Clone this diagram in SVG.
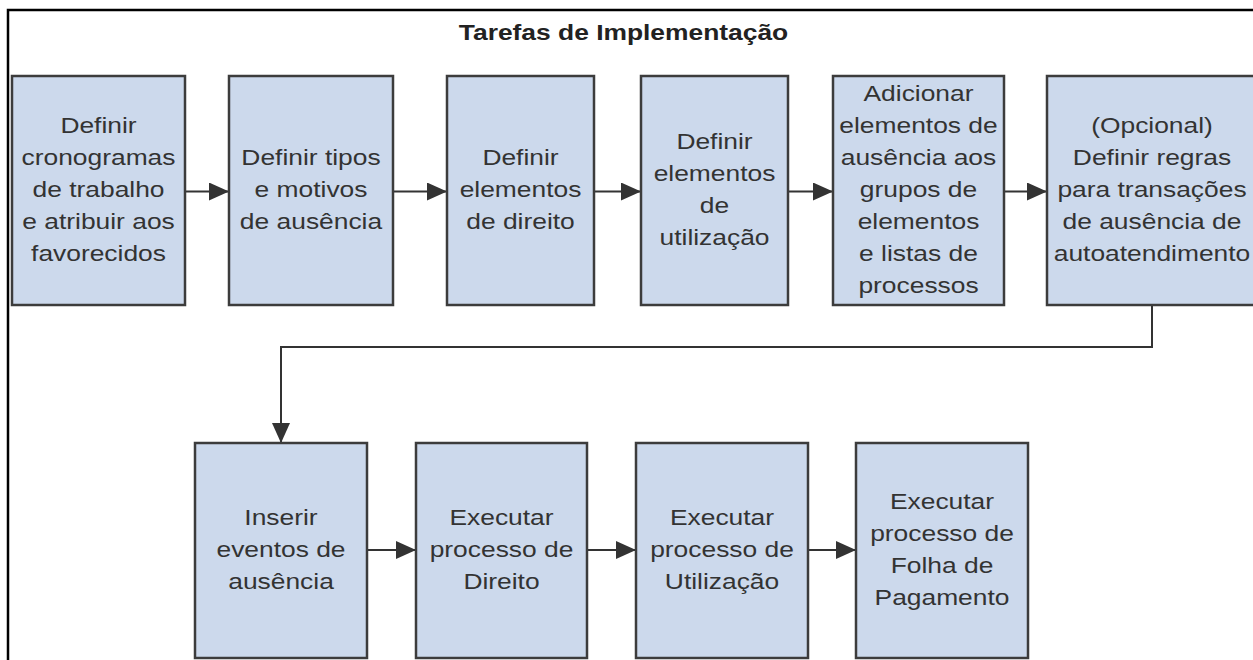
<svg xmlns="http://www.w3.org/2000/svg" width="1253" height="660" viewBox="0 0 1253 660">
<style>
.box{fill:#ccd9ec;stroke:#3c3c3c;stroke-width:2.5}
.lbl{font-family:"Liberation Sans",Arial,sans-serif;font-size:22px;fill:#333;text-anchor:middle}
.title{font-family:"Liberation Sans",Arial,sans-serif;font-size:22px;font-weight:bold;fill:#222;text-anchor:middle}
.conn{fill:none;stroke:#333;stroke-width:2}
</style>
<defs>
<marker id="arr" markerUnits="userSpaceOnUse" markerWidth="20" markerHeight="18" refX="20" refY="9" orient="auto">
<path d="M0,0 L20,9 L0,18 z" fill="#333"/>
</marker>
</defs>
<rect width="1253" height="660" fill="#fff"/>
<g id="frame">
<path d="M8,662 L8,10 L1256,10" fill="none" stroke="#000" stroke-width="2.5"/>
</g>
<text class="title" transform="translate(623.5,0) scale(1.2,1)" x="0" y="40">Tarefas de Implementação</text>

<g id="connectors">
<path class="conn" d="M185,191.5 L229,191.5" marker-end="url(#arr)"/>
<path class="conn" d="M393,191.5 L447,191.5" marker-end="url(#arr)"/>
<path class="conn" d="M594,191.5 L641,191.5" marker-end="url(#arr)"/>
<path class="conn" d="M788,191.5 L833,191.5" marker-end="url(#arr)"/>
<path class="conn" d="M1004,191.5 L1047,191.5" marker-end="url(#arr)"/>
<path class="conn" d="M1152,305 L1152,347 L281,347 L281,443" marker-end="url(#arr)"/>
<path class="conn" d="M367,550 L416,550" marker-end="url(#arr)"/>
<path class="conn" d="M587,550 L636,550" marker-end="url(#arr)"/>
<path class="conn" d="M808,550 L856,550" marker-end="url(#arr)"/>
</g>

<g id="n1">
<rect class="box" x="12" y="76" width="173" height="229"/>
<text class="lbl" transform="translate(98.5,0) scale(1.2,1)"><tspan x="0" y="133">Definir</tspan><tspan x="0" y="165">cronogramas</tspan><tspan x="0" y="197">de trabalho</tspan><tspan x="0" y="229">e atribuir aos</tspan><tspan x="0" y="261">favorecidos</tspan></text>
</g>
<g id="n2">
<rect class="box" x="229" y="76" width="164" height="229"/>
<text class="lbl" transform="translate(311,0) scale(1.2,1)"><tspan x="0" y="165">Definir tipos</tspan><tspan x="0" y="197">e motivos</tspan><tspan x="0" y="229">de ausência</tspan></text>
</g>
<g id="n3">
<rect class="box" x="447" y="76" width="147" height="229"/>
<text class="lbl" transform="translate(520.5,0) scale(1.2,1)"><tspan x="0" y="165">Definir</tspan><tspan x="0" y="197">elementos</tspan><tspan x="0" y="229">de direito</tspan></text>
</g>
<g id="n4">
<rect class="box" x="641" y="76" width="147" height="229"/>
<text class="lbl" transform="translate(714.5,0) scale(1.2,1)"><tspan x="0" y="149">Definir</tspan><tspan x="0" y="181">elementos</tspan><tspan x="0" y="213">de</tspan><tspan x="0" y="245">utilização</tspan></text>
</g>
<g id="n5">
<rect class="box" x="833" y="76" width="171" height="229"/>
<text class="lbl" transform="translate(918.5,0) scale(1.2,1)"><tspan x="0" y="101">Adicionar</tspan><tspan x="0" y="133">elementos de</tspan><tspan x="0" y="165">ausência aos</tspan><tspan x="0" y="197">grupos de</tspan><tspan x="0" y="229">elementos</tspan><tspan x="0" y="261">e listas de</tspan><tspan x="0" y="293">processos</tspan></text>
</g>
<g id="n6">
<rect class="box" x="1047" y="76" width="210" height="229"/>
<text class="lbl" transform="translate(1152,0) scale(1.2,1)"><tspan x="0" y="133">(Opcional)</tspan><tspan x="0" y="165">Definir regras</tspan><tspan x="0" y="197">para transações</tspan><tspan x="0" y="229">de ausência de</tspan><tspan x="0" y="261">autoatendimento</tspan></text>
</g>
<g id="n7">
<rect class="box" x="195" y="443" width="172" height="215"/>
<text class="lbl" transform="translate(281,0) scale(1.2,1)"><tspan x="0" y="525">Inserir</tspan><tspan x="0" y="557">eventos de</tspan><tspan x="0" y="589">ausência</tspan></text>
</g>
<g id="n8">
<rect class="box" x="416" y="443" width="171" height="215"/>
<text class="lbl" transform="translate(501.5,0) scale(1.2,1)"><tspan x="0" y="525">Executar</tspan><tspan x="0" y="557">processo de</tspan><tspan x="0" y="589">Direito</tspan></text>
</g>
<g id="n9">
<rect class="box" x="636" y="443" width="172" height="215"/>
<text class="lbl" transform="translate(722,0) scale(1.2,1)"><tspan x="0" y="525">Executar</tspan><tspan x="0" y="557">processo de</tspan><tspan x="0" y="589">Utilização</tspan></text>
</g>
<g id="n10">
<rect class="box" x="856" y="443" width="172" height="215"/>
<text class="lbl" transform="translate(942,0) scale(1.2,1)"><tspan x="0" y="509">Executar</tspan><tspan x="0" y="541">processo de</tspan><tspan x="0" y="573">Folha de</tspan><tspan x="0" y="605">Pagamento</tspan></text>
</g>
</svg>
